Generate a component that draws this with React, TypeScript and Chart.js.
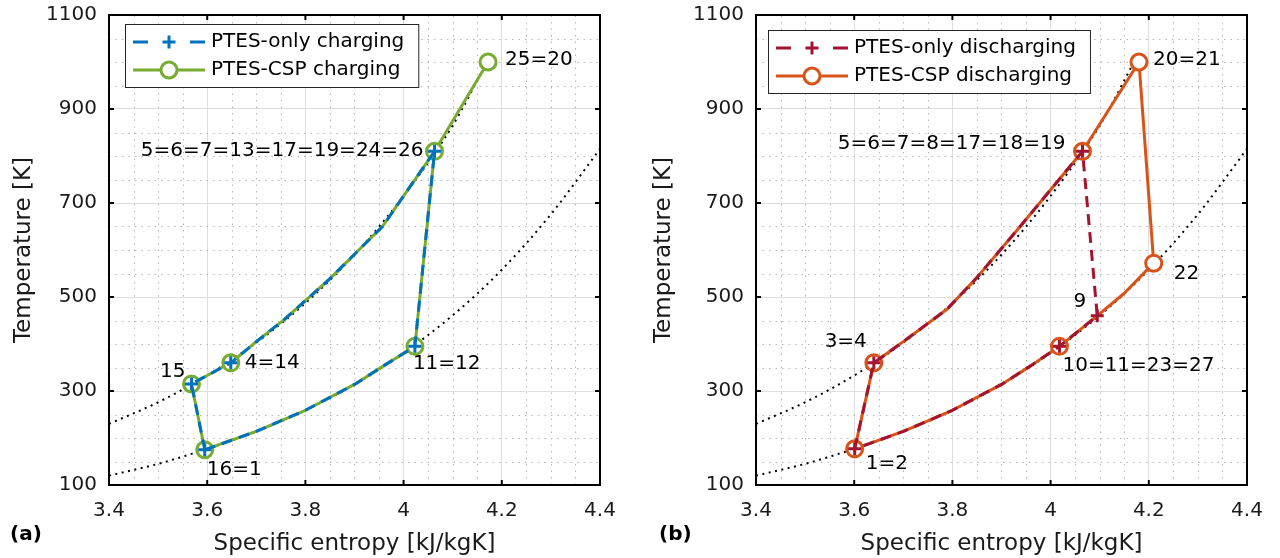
import React, { useEffect, useRef } from "react";
import { Chart, registerables } from "chart.js";
Chart.register(...registerables);

// ---------- axes ----------
const xTicks = [3.4, 3.6, 3.8, 4, 4.2, 4.4];
const yTicks = [100, 300, 500, 700, 900, 1100];
const xMinorStep = 0.05;
const yMinorStep = 50;

// ---------- isobars (dotted) ----------
const lowIsoS = [3.4, 3.5, 3.6, 3.7, 3.8, 3.9, 4.0, 4.1, 4.2, 4.3, 4.4];
const lowIsoT = [120, 145, 177, 214, 259, 314, 381, 461, 558, 676, 815];
const highIsoS = [3.4, 3.5, 3.6, 3.7, 3.8, 3.9, 4.0, 4.1, 4.17];
const highIsoT = [230, 276, 333, 403, 487, 590, 715, 865, 1000];

// ---------- (a) charging ----------
const chOnlyS = [3.595, 3.7, 3.8, 3.9, 3.96, 4.023, 4.063, 3.957, 3.849, 3.758, 3.7, 3.648, 3.568, 3.595];
const chOnlyT = [175, 214, 259, 314, 354, 395, 810, 650, 538, 453, 405, 360, 315, 175];
const chOnlyMarks = [0, 5, 6, 11, 12];
const chCspS = [4.172, 4.063, 3.957, 3.849, 3.758, 3.7, 3.648, 3.568, 3.595, 3.7, 3.8, 3.9, 3.96, 4.023, 4.063];
const chCspT = [1000, 810, 650, 538, 453, 405, 360, 315, 175, 214, 259, 314, 354, 395, 810];
const chCspMarks = [0, 1, 6, 7, 8, 13];
const chLabels = ["25=20", "5=6=7=13=17=19=24=26", "4=14", "15", "16=1", "11=12"];
const chLabelIdx = [0, 1, 6, 7, 8, 13];

// ---------- (b) discharging ----------
const disOnlyS = [3.601, 3.64, 3.7, 3.789, 3.847, 3.938, 4.065, 4.095, 4.018, 3.96, 3.9, 3.8, 3.7, 3.601];
const disOnlyT = [177, 360, 405, 474, 538, 650, 810, 460, 395, 354, 314, 259, 214, 177];
const disOnlyMarks = [0, 1, 6, 7, 8];
const disCspS = [3.601, 3.64, 3.7, 3.789, 3.847, 3.938, 4.065, 4.18, 4.21, 4.15, 4.095, 4.018, 3.96, 3.9, 3.8, 3.7, 3.601];
const disCspT = [177, 360, 405, 474, 538, 650, 810, 1000, 572, 508, 460, 395, 354, 314, 259, 214, 177];
const disCspMarks = [0, 1, 6, 7, 8, 11];
const disLabels = ["1=2", "3=4", "5=6=7=8=17=18=19", "20=21", "22", "10=11=23=27", "9"];
const disLabelIdx = [0, 1, 6, 7, 8, 11, 7];

// ---------- styling ----------
const FONT = '"DejaVu Sans", sans-serif';
const TXT = "#1a1a1a";
const BLUE = "#0072BD";
const GREEN = "#77AC30";
const ORANGE = "#D95319";
const RED = "#A2142F";

const zip = (s: number[], t: number[]) => s.map((v, i) => ({ x: v, y: t[i] }));

type LabelPos = { ds: number; dx: number; dy: number; align: CanvasTextAlign };

interface PanelCfg {
  tag: string;
  tagX: number;
  yAxisWidth: number;
  padRight: number;
  onlyName: string;
  cspName: string;
  onlyColor: string;
  cspColor: string;
  onlyS: number[];
  onlyT: number[];
  onlyMarks: number[];
  cspS: number[];
  cspT: number[];
  cspMarks: number[];
  labels: string[];
  labelIdx: number[];
  labelPos: LabelPos[];
  legendDx: number;
  legendDy: number;
}

const panelA: PanelCfg = {
  tag: "(a)",
  tagX: 10,
  yAxisWidth: 109,
  padRight: 40,
  onlyName: "PTES-only charging",
  cspName: "PTES-CSP charging",
  onlyColor: BLUE,
  cspColor: GREEN,
  onlyS: chOnlyS,
  onlyT: chOnlyT,
  onlyMarks: chOnlyMarks,
  cspS: chCspS,
  cspT: chCspT,
  cspMarks: chCspMarks,
  labels: chLabels,
  labelIdx: chLabelIdx,
  labelPos: [
    { ds: 1, dx: 17, dy: -2, align: "left" },
    { ds: 1, dx: -11, dy: -1, align: "right" },
    { ds: 1, dx: 14, dy: 0, align: "left" },
    { ds: 1, dx: -6, dy: -12, align: "right" },
    { ds: 1, dx: 2, dy: 20, align: "left" },
    { ds: 1, dx: -2, dy: 17, align: "left" },
  ],
  legendDx: 16,
  legendDy: 9,
};

const panelB: PanelCfg = {
  tag: "(b)",
  tagX: 19,
  yAxisWidth: 116,
  padRight: 33,
  onlyName: "PTES-only discharging",
  cspName: "PTES-CSP discharging",
  onlyColor: RED,
  cspColor: ORANGE,
  onlyS: disOnlyS,
  onlyT: disOnlyT,
  onlyMarks: disOnlyMarks,
  cspS: disCspS,
  cspT: disCspT,
  cspMarks: disCspMarks,
  labels: disLabels,
  labelIdx: disLabelIdx,
  labelPos: [
    { ds: 1, dx: 11, dy: 15, align: "left" },
    { ds: 1, dx: -7, dy: -21, align: "right" },
    { ds: 1, dx: -17, dy: -8, align: "right" },
    { ds: 1, dx: 14, dy: -2, align: "left" },
    { ds: 1, dx: 20, dy: 11, align: "left" },
    { ds: 1, dx: 3, dy: 19, align: "left" },
    { ds: 0, dx: -11, dy: -14, align: "right" },
  ],
  legendDx: 12,
  legendDy: 15,
};

function makePlugin(cfg: PanelCfg) {
  return {
    id: "matlabFrame",
    beforeDatasetsDraw(chart: any) {
      const { ctx, chartArea: a, scales } = chart;
      const x = scales.x;
      const y = scales.y;
      ctx.save();
      ctx.beginPath();
      ctx.rect(a.left, a.top, a.right - a.left, a.bottom - a.top);
      ctx.clip();
      ctx.strokeStyle = "#b5b5b5";
      ctx.lineWidth = 1;
      ctx.setLineDash([1.5, 5]);
      const xMin = xTicks[0];
      const xMax = xTicks[xTicks.length - 1];
      const nx = Math.round((xMax - xMin) / xMinorStep);
      for (let k = 1; k < nx; k++) {
        if (k % 4 === 0) continue;
        const px = Math.round(x.getPixelForValue(xMin + k * xMinorStep)) + 0.5;
        ctx.beginPath();
        ctx.moveTo(px, a.bottom);
        ctx.lineTo(px, a.top);
        ctx.stroke();
      }
      const yMin = yTicks[0];
      const yMax = yTicks[yTicks.length - 1];
      const ny = Math.round((yMax - yMin) / yMinorStep);
      for (let k = 1; k < ny; k++) {
        if (k % 4 === 0) continue;
        const py = Math.round(y.getPixelForValue(yMin + k * yMinorStep)) + 0.5;
        ctx.beginPath();
        ctx.moveTo(a.left, py);
        ctx.lineTo(a.right, py);
        ctx.stroke();
      }
      ctx.restore();
    },
    afterDatasetsDraw(chart: any) {
      const { ctx, chartArea: a, scales } = chart;
      const x = scales.x;
      const y = scales.y;
      ctx.save();
      // point annotations
      ctx.fillStyle = "#000";
      ctx.font = `20px ${FONT}`;
      ctx.textBaseline = "middle";
      cfg.labels.forEach((txt, i) => {
        const pos = cfg.labelPos[i];
        const el = chart.getDatasetMeta(pos.ds).data[cfg.labelIdx[i]];
        if (!el) return;
        ctx.textAlign = pos.align;
        ctx.fillText(txt, el.x + pos.dx, el.y + pos.dy);
      });
      // axes box
      ctx.setLineDash([]);
      ctx.strokeStyle = "#000";
      ctx.lineWidth = 2;
      ctx.strokeRect(a.left, a.top, a.right - a.left, a.bottom - a.top);
      // inward ticks
      const tl = 5;
      ctx.beginPath();
      xTicks.forEach((v) => {
        const px = x.getPixelForValue(v);
        ctx.moveTo(px, a.bottom);
        ctx.lineTo(px, a.bottom - tl);
        ctx.moveTo(px, a.top);
        ctx.lineTo(px, a.top + tl);
      });
      yTicks.forEach((v) => {
        const py = y.getPixelForValue(v);
        ctx.moveTo(a.left, py);
        ctx.lineTo(a.left + tl, py);
        ctx.moveTo(a.right, py);
        ctx.lineTo(a.right - tl, py);
      });
      ctx.stroke();
      // legend
      ctx.font = `20px ${FONT}`;
      const tw = Math.max(ctx.measureText(cfg.onlyName).width, ctx.measureText(cfg.cspName).width);
      const bx = a.left + cfg.legendDx;
      const by = a.top + cfg.legendDy;
      const bw = 86 + tw + 14;
      const bh = 63;
      ctx.fillStyle = "#fff";
      ctx.fillRect(bx, by, bw, bh);
      ctx.strokeStyle = "#262626";
      ctx.lineWidth = 1;
      ctx.strokeRect(bx + 0.5, by + 0.5, bw, bh);
      const r1 = by + 18;
      const r2 = by + 46;
      // row 1: dashed with plus
      ctx.strokeStyle = cfg.onlyColor;
      ctx.lineWidth = 3;
      ctx.beginPath();
      ctx.moveTo(bx + 8, r1);
      ctx.lineTo(bx + 23, r1);
      ctx.moveTo(bx + 65, r1);
      ctx.lineTo(bx + 80, r1);
      ctx.moveTo(bx + 44 - 6.5, r1);
      ctx.lineTo(bx + 44 + 6.5, r1);
      ctx.moveTo(bx + 44, r1 - 6.5);
      ctx.lineTo(bx + 44, r1 + 6.5);
      ctx.stroke();
      // row 2: solid with circle
      ctx.strokeStyle = cfg.cspColor;
      ctx.beginPath();
      ctx.moveTo(bx + 8, r2);
      ctx.lineTo(bx + 80, r2);
      ctx.stroke();
      ctx.beginPath();
      ctx.arc(bx + 44, r2, 8, 0, Math.PI * 2);
      ctx.fillStyle = "#fff";
      ctx.fill();
      ctx.stroke();
      ctx.fillStyle = "#000";
      ctx.textAlign = "left";
      ctx.textBaseline = "middle";
      ctx.fillText(cfg.onlyName, bx + 86, r1);
      ctx.fillText(cfg.cspName, bx + 86, r2);
      // panel tag
      ctx.font = `bold 20px ${FONT}`;
      ctx.fillText(cfg.tag, cfg.tagX, 535);
      ctx.restore();
    },
  };
}

function Panel({ cfg }: { cfg: PanelCfg }) {
  const ref = useRef<HTMLCanvasElement>(null);
  useEffect(() => {
    if (!ref.current) return;
    const chart = new Chart(ref.current, {
      type: "line",
      data: {
        datasets: [
          {
            label: cfg.onlyName,
            data: zip(cfg.onlyS, cfg.onlyT),
            borderColor: cfg.onlyColor,
            borderWidth: 3,
            borderDash: [11, 7],
            borderJoinStyle: "round",
            fill: false,
            order: 1,
            pointStyle: "cross",
            pointRadius: (c: any) => (cfg.onlyMarks.includes(c.dataIndex) ? 6.5 : 0),
            pointBorderWidth: 3,
            pointBorderColor: cfg.onlyColor,
            pointBackgroundColor: cfg.onlyColor,
          } as any,
          {
            label: cfg.cspName,
            data: zip(cfg.cspS, cfg.cspT),
            borderColor: cfg.cspColor,
            borderWidth: 3,
            borderJoinStyle: "round",
            fill: false,
            order: 2,
            pointStyle: "circle",
            pointRadius: (c: any) => (cfg.cspMarks.includes(c.dataIndex) ? 8 : 0),
            pointBorderWidth: 3,
            pointBorderColor: cfg.cspColor,
            pointBackgroundColor: "#ffffff",
          } as any,
          {
            label: "low isobar",
            data: zip(lowIsoS, lowIsoT),
            borderColor: "#000",
            borderWidth: 2,
            borderDash: [2, 4.5],
            cubicInterpolationMode: "monotone",
            pointRadius: 0,
            fill: false,
            order: 3,
          } as any,
          {
            label: "high isobar",
            data: zip(highIsoS, highIsoT),
            borderColor: "#000",
            borderWidth: 2,
            borderDash: [2, 4.5],
            cubicInterpolationMode: "monotone",
            pointRadius: 0,
            fill: false,
            order: 3,
          } as any,
        ],
      },
      options: {
        responsive: false,
        devicePixelRatio: 1,
        animation: false,
        events: [],
        layout: { padding: { left: 0, right: cfg.padRight, top: 15, bottom: 0 } },
        plugins: { legend: { display: false }, tooltip: { enabled: false } },
        scales: {
          x: {
            type: "linear",
            min: xTicks[0],
            max: xTicks[xTicks.length - 1],
            afterBuildTicks: (s: any) => {
              s.ticks = xTicks.map((v) => ({ value: v }));
            },
            afterFit: (s: any) => {
              s.height = 73;
              s.paddingLeft = 0;
              s.paddingRight = 0;
            },
            grid: { color: "#dedede", lineWidth: 1, drawTicks: false },
            border: { display: false },
            ticks: {
              font: { family: FONT, size: 20 },
              color: TXT,
              padding: 14,
              maxRotation: 0,
              callback: (v: any) => String(Number(Number(v).toFixed(1))),
            },
            title: {
              display: true,
              text: "Specific entropy [kJ/kgK]",
              font: { family: FONT, size: 23 },
              color: TXT,
              padding: { top: 2, bottom: 0 },
            },
          },
          y: {
            type: "linear",
            min: yTicks[0],
            max: yTicks[yTicks.length - 1],
            afterBuildTicks: (s: any) => {
              s.ticks = yTicks.map((v) => ({ value: v }));
            },
            afterFit: (s: any) => {
              s.width = cfg.yAxisWidth;
              s.paddingTop = 0;
              s.paddingBottom = 0;
            },
            grid: { color: "#dedede", lineWidth: 1, drawTicks: false },
            border: { display: false },
            ticks: {
              font: { family: FONT, size: 20 },
              color: TXT,
              padding: 12,
              callback: (v: any) => String(v),
            },
            title: {
              display: true,
              text: "Temperature [K]",
              font: { family: FONT, size: 23 },
              color: TXT,
              padding: { top: 10, bottom: 0 },
            },
          },
        },
      } as any,
      plugins: [makePlugin(cfg)],
    });
    return () => chart.destroy();
  }, [cfg]);
  return (
    <div style={{ width: 640, height: 558, position: "relative" }}>
      <canvas ref={ref} width={640} height={558} style={{ display: "block", width: 640, height: 558 }} />
    </div>
  );
}

export default function App() {
  return (
    <div
      style={{
        position: "fixed",
        left: 0,
        top: 0,
        width: 1280,
        height: 558,
        display: "flex",
        background: "#fff",
      }}
    >
      <Panel cfg={panelA} />
      <Panel cfg={panelB} />
    </div>
  );
}
